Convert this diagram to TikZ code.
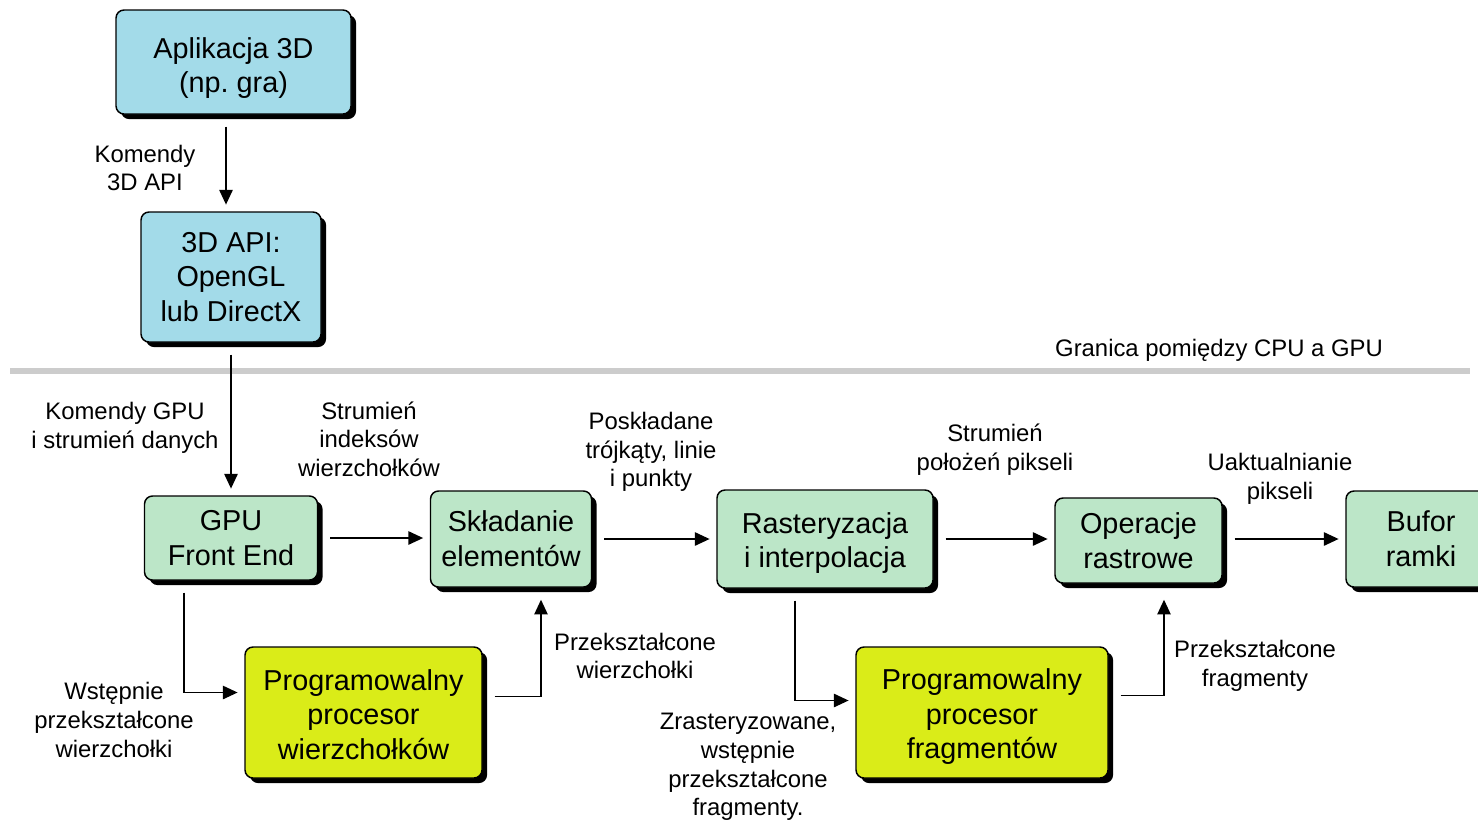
\documentclass[tikz,border=0pt]{standalone}
\usepackage{fontspec}
\setmainfont{Liberation Sans}
\usetikzlibrary{arrows.meta,shadows,calc}
\definecolor{cpublue}{RGB}{163,219,233}
\definecolor{stagegreen}{RGB}{188,230,200}
\definecolor{progyellow}{RGB}{218,236,24}
\definecolor{bordergray}{RGB}{204,204,204}
\frenchspacing
\begin{document}
\begin{tikzpicture}[x=0.75pt,y=-0.75pt,
  box/.style={draw=black, line width=1.1pt, rounded corners=6pt, align=center,
    inner sep=0pt, font=\fontsize{21.6}{26}\selectfont,
    drop shadow={shadow xshift=3.8pt, shadow yshift=-3.8pt, fill=black, opacity=1}},
  lbl/.style={align=center, inner sep=0pt, font=\fontsize{17.9}{21.5}\selectfont},
  arr/.style={-{Triangle[length=11pt,width=10pt]}, line width=1.1pt,
    shorten <=9pt, shorten >=5pt},
]
\clip (0,0) rectangle (1478,822);
\fill[white] (0,0) rectangle (1478,822);

% CPU side
\node[box, fill=cpublue, minimum width=176.25pt, minimum height=78pt] (app) at (233.5,62) {\rule{0pt}{24.8pt}Aplikacja 3D\\(np. gra)};
\node[box, fill=cpublue, minimum width=135pt, minimum height=97.5pt] (api) at (231,277) {3D API:\\OpenGL\\lub DirectX};

% CPU/GPU boundary
\draw[line width=4.5pt, bordergray] (10,371) -- (1470,371);
\node[lbl] (granica) at (1219,350) {Granica pomiędzy CPU a GPU};

% GPU pipeline
\node[box, fill=stagegreen, minimum width=129.75pt, minimum height=63pt] (gpufe) at (231,538) {GPU\\Front End};
\node[box, fill=stagegreen, minimum width=120.75pt, minimum height=72pt] (skl) at (511,539) {Składanie\\elementów};
\node[box, fill=stagegreen, minimum width=162pt, minimum height=73.5pt] (raster) at (825,539) {\rule{0pt}{21.5pt}Rasteryzacja\\i interpolacja};
\node[box, fill=stagegreen, minimum width=125.25pt, minimum height=63.75pt] (oper) at (1138.5,540.5) {Operacje\\rastrowe};
\node[box, fill=stagegreen, minimum width=112.5pt, minimum height=72pt] (bufor) at (1421,539) {Bufor\\ramki};
\node[box, fill=progyellow, minimum width=177.75pt, minimum height=98.25pt] (vp) at (363.5,712.5) {\rule{0pt}{18.6pt}Programowalny\\procesor\\wierzchołków};
\node[box, fill=progyellow, minimum width=189pt, minimum height=98.25pt] (fp) at (982,712.5) {\rule{0pt}{22pt}Programowalny\\procesor\\fragmentów};

% connectors
\draw[arr] ($(app.south)+(-7.5,0)$) -- ($(api.north)+(-5,0)$);
\draw[arr] (api.south) -- (api.south |- gpufe.north);
\draw[arr] (gpufe.east) -- (gpufe.east -| skl.west);
\draw[arr] (skl.east) -- (skl.east -| raster.west);
\draw[arr] (raster.east) -- (raster.east -| oper.west);
\draw[arr] (oper.east |- bufor.west) -- (bufor.west);
\draw[arr] ($(gpufe.south west)+(40,0)$) |- ($(vp.west)+(0,-20)$);
\draw[arr, shorten >=9pt] ($(vp.east)+(0,-16)$) -| ($(skl.south)+(30,0)$);
\draw[arr] ($(raster.south)+(-30,0)$) |- ($(fp.west)+(0,-12)$);
\draw[arr, shorten >=12pt] ($(fp.east)+(0,-17)$) -| ($(oper.south)+(25.5,0)$);

% labels
\node[lbl] (l1) at (145,168) {Komendy\\3D API};
\node[lbl] (l2) at (125,428) {Komendy GPU\\i strumień danych};
\node[lbl] (l3) at (369,439) {Strumień\\indeksów\\wierzchołków};
\node[lbl] (l4) at (651,452) {Poskładane\\trójkąty, linie\\i punkty};
\node[lbl] (l5) at (995,450) {Strumień\\położeń pikseli};
\node[lbl] (l6) at (1280,479) {Uaktualnianie\\pikseli};
\node[lbl] (l7) at (635,656) {Przekształcone\\wierzchołki};
\node[lbl] (l8) at (114,720) {Wstępnie\\przekształcone\\wierzchołki};
\node[lbl] (l9) at (748,767) {Zrasteryzowane,\\wstępnie\\przekształcone\\fragmenty.};
\node[lbl] (l10) at (1255,665.5) {Przekształcone\\fragmenty};
\end{tikzpicture}
\end{document}
